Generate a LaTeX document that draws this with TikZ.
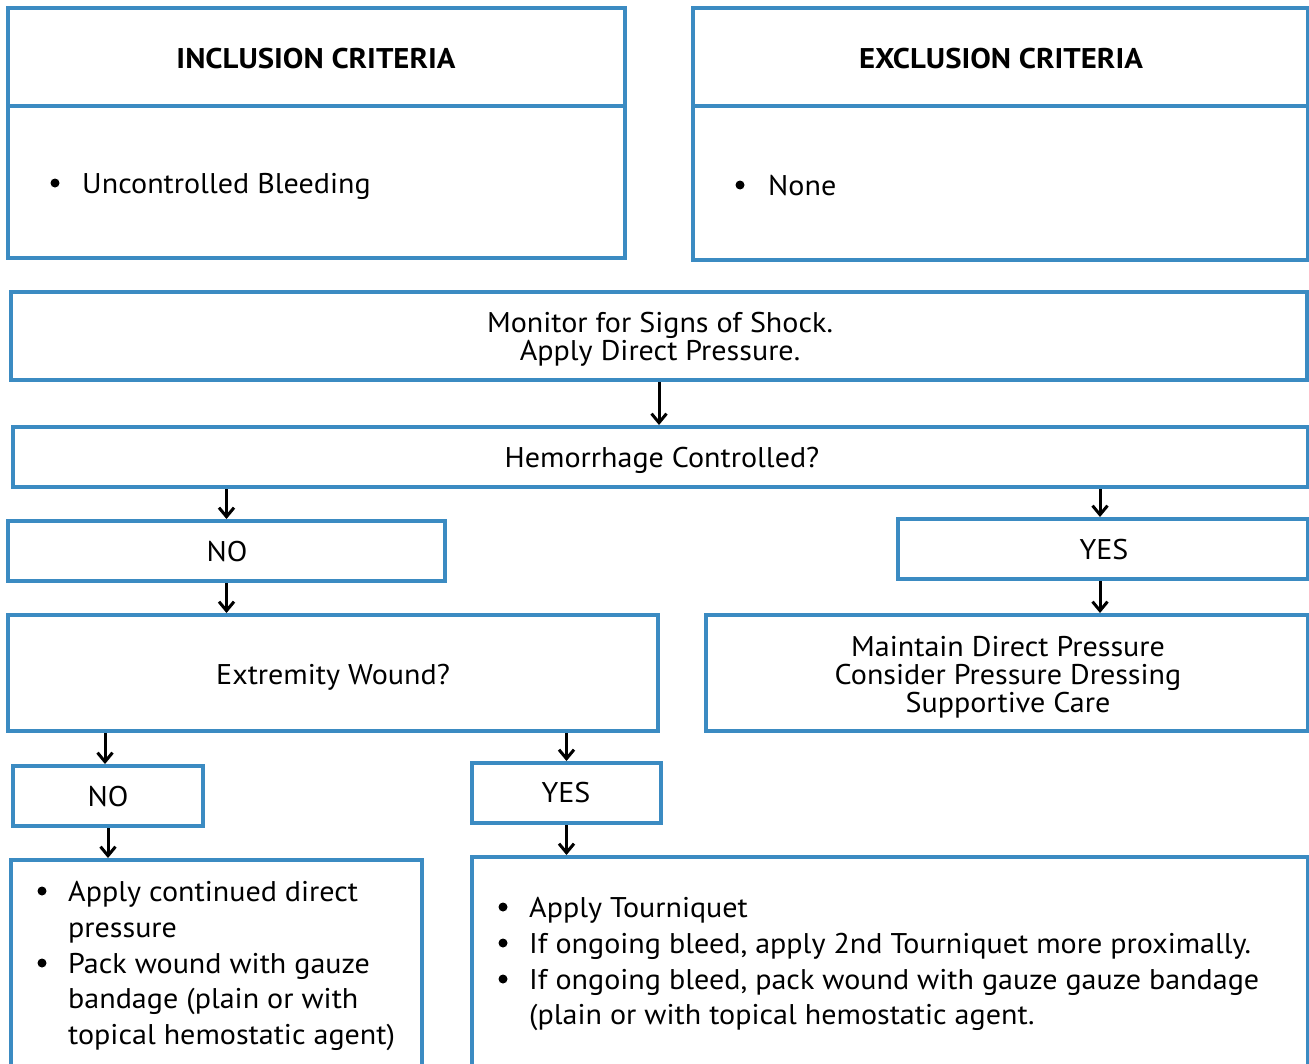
\documentclass[tikz,border=0pt]{standalone}
\usepackage{fontspec}
\setmainfont[FakeStretch=1.055,BoldFeatures={FakeStretch=1.08}]{PT Sans}
\usetikzlibrary{arrows.meta}
\definecolor{boxblue}{RGB}{59,139,194}
\begin{document}
\begin{tikzpicture}[x=1pt,y=-1pt,
  box/.style={draw=boxblue,line width=4pt,inner sep=0pt,fill=white},
  lbl/.style={inner sep=0pt,anchor=base,font=\fontsize{28.5}{28}\selectfont},
  ltxt/.style={inner sep=0pt,anchor=base west,font=\fontsize{28.5}{28}\selectfont},
  hdr/.style={inner sep=0pt,anchor=base,font=\fontsize{28.5}{28}\selectfont\bfseries},
  dot/.style={circle,fill=black,inner sep=0pt,minimum size=9pt},
  arr/.style={draw=black,line width=3pt,-{Straight Barb[length=9pt,width=15pt,line width=3pt]}}
]
\useasboundingbox (0,0) rectangle (1309,1063);
\clip (0,0) rectangle (1309,1063);
\fill[white] (0,0) rectangle (1309,1063);

% Inclusion / Exclusion
\node[box,minimum width=617pt,minimum height=250pt] (inc) at (316.5,133) {};
\draw[boxblue,line width=4pt] (8,106) -- (625,106);
\node[hdr] (inch) at (316,68) {INCLUSION CRITERIA};
\node[dot] (incd) at (55,183) {};
\node[ltxt] (inct) at (82,193) {Uncontrolled Bleeding};

\node[box,minimum width=615pt,minimum height=252pt] (exc) at (1000.5,134) {};
\draw[boxblue,line width=4pt] (693,106) -- (1308,106);
\node[hdr] (exch) at (1001,68) {EXCLUSION CRITERIA};
\node[dot] (excd) at (740,185) {};
\node[ltxt] (exct) at (768,195) {None};

% Monitor
\node[box,minimum width=1296pt,minimum height=88pt] (mon) at (659,336) {};
\node[lbl] (mon1) at (660,332) {Monitor for Signs of Shock.};
\node[lbl] (mon2) at (660,360) {Apply Direct Pressure.};

% Hemorrhage
\node[box,minimum width=1295pt,minimum height=60pt] (hem) at (660.5,457) {};
\node[lbl] (hemt) at (662,467) {Hemorrhage Controlled?};

% NO / YES
\node[box,minimum width=437pt,minimum height=60pt] (no1) at (226.5,551) {};
\node[lbl] (no1t) at (227,561) {NO};
\node[box,minimum width=410pt,minimum height=60pt] (yes1) at (1103,549) {};
\node[lbl] (yes1t) at (1104,559) {YES};

% Extremity / Maintain
\node[box,minimum width=650pt,minimum height=116pt] (ext) at (333,673) {};
\node[lbl] (extt) at (333,684) {Extremity Wound?};
\node[box,minimum width=602pt,minimum height=116pt] (mnt) at (1007,673) {};
\node[lbl] (mnt1) at (1008,656) {Maintain Direct Pressure};
\node[lbl] (mnt2) at (1008,684) {Consider Pressure Dressing};
\node[lbl] (mnt3) at (1008,712) {Supportive Care};

% NO / YES (second level)
\node[box,minimum width=190pt,minimum height=60pt] (no2) at (108,796) {};
\node[lbl] (no2t) at (108,806) {NO};
\node[box,minimum width=189pt,minimum height=60pt] (yes2) at (566.5,793) {};
\node[lbl] (yes2t) at (566,802) {YES};

% Action boxes
\node[box,minimum width=411pt,minimum height=240pt] (act1) at (216.5,980) {};
\node[dot] (a1d1) at (42,891) {};
\node[ltxt] (a1l1) at (68,901) {Apply continued direct};
\node[ltxt] (a1l2) at (68,937) {pressure};
\node[dot] (a1d2) at (42,963) {};
\node[ltxt] (a1l3) at (68,973) {Pack wound with gauze};
\node[ltxt] (a1l4) at (68,1008) {bandage (plain or with};
\node[ltxt] (a1l5) at (68,1044) {topical hemostatic agent)};

\node[box,minimum width=836pt,minimum height=243pt] (act2) at (890,978.5) {};
\node[dot] (a2d1) at (503,907) {};
\node[ltxt] (a2l1) at (529,917) {Apply Tourniquet};
\node[dot] (a2d2) at (503,943) {};
\node[ltxt] (a2l2) at (529,953) {If ongoing bleed, apply 2nd Tourniquet more proximally.};
\node[dot] (a2d3) at (503,979) {};
\node[ltxt] (a2l3) at (529,989) {If ongoing bleed, pack wound with gauze gauze bandage};
\node[ltxt] (a2l4) at (529,1024) {(plain or with topical hemostatic agent.};

% Connectors
\draw[arr] (mon.south) -- (hem.north -| mon.south);
\draw[arr] (hem.south -| no1.north) -- (no1.north);
\draw[arr] (hem.south -| 1100,0) -- (yes1.north -| 1100,0);
\draw[arr] (no1.south) -- (ext.north -| no1.south);
\draw[arr] (yes1.south -| 1100,0) -- (mnt.north -| 1100,0);
\draw[arr] (ext.south -| 105,0) -- (no2.north -| 105,0);
\draw[arr] (ext.south -| yes2.north) -- (yes2.north);
\draw[arr] (no2.south) -- (act1.north -| no2.south);
\draw[arr] (yes2.south) -- (act2.north -| yes2.south);
\end{tikzpicture}
\end{document}
